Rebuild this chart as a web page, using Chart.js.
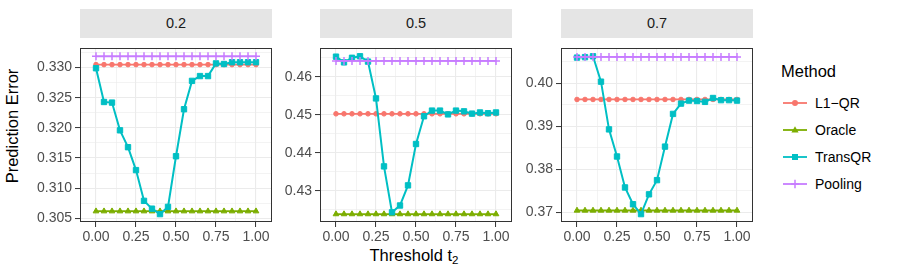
<!DOCTYPE html>
<html>
<head>
<meta charset="utf-8">
<script src="https://cdn.jsdelivr.net/npm/chart.js@4.4.1/dist/chart.umd.min.js"></script>
<style>
  body { margin: 0; background: #fff; font-family: "Liberation Sans", Arial, sans-serif; }
  #wrap { position: relative; width: 897px; height: 280px; overflow: hidden; }
  .panel { position: absolute; }
  .strip { position: absolute; top: 9px; height: 29px; line-height: 29px; background: #E5E5E5;
           color: #1A1A1A; font-size: 14.5px; text-align: center; }
  #ytitle { position: absolute; left: 12px; top: 126px; transform: translate(-50%, -50%) rotate(-90deg);
            font-size: 16.5px; color: #000; white-space: nowrap; }
  #xtitle { position: absolute; left: 414px; top: 255px; transform: translate(-50%, -50%);
            font-size: 16.5px; color: #000; white-space: nowrap; }
  #xtitle sub { font-size: 11.5px; vertical-align: -3px; line-height: 0; }
  #legend { position: absolute; left: 781px; top: 62px; }
  #legend .ttl { font-size: 16.5px; color: #000; height: 24px; }
  #legend .item { position: absolute; left: 2px; height: 14px; width: 110px; }
  #legend .item svg { position: absolute; left: 0; top: 1px; }
  #legend .item span { position: absolute; left: 32px; top: -1px; font-size: 14px; color: #000; white-space: nowrap; }
</style>
</head>
<body>
<div id="wrap">
  <div id="ytitle">Prediction Error</div>
  <div id="xtitle">Threshold t<sub>2</sub></div>
  <div id="legend"><div class="ttl">Method</div></div>
</div>
<script>
// thresholds t2 on the x axis
const thresholds = [0.00, 0.05, 0.10, 0.15, 0.20, 0.25, 0.30, 0.35, 0.40, 0.45, 0.50,
                    0.55, 0.60, 0.65, 0.70, 0.75, 0.80, 0.85, 0.90, 0.95, 1.00];
const facetLabels = ["0.2", "0.5", "0.7"];
const methods = ["L1\u2212QR", "Oracle", "TransQR", "Pooling"];
const colors = ["#F8766D", "#7CAE00", "#00BFC4", "#C77CFF"];

// methods that do not depend on t2: one value per facet
const l1qr    = [0.33050, 0.45025, 0.39626];
const oracle  = [0.30618, 0.42383, 0.37044];
const pooling = [0.33188, 0.46417, 0.40616];

// TransQR per facet
const transqr02 = [0.3299, 0.3243, 0.3242, 0.3196, 0.3168, 0.3130, 0.3079, 0.3066, 0.3057, 0.3069, 0.3153,
                   0.3231, 0.3278, 0.3286, 0.3286, 0.3307, 0.3306, 0.3309, 0.3309, 0.3309, 0.3309];
const transqr05 = [0.4653, 0.4638, 0.4650, 0.4654, 0.4640, 0.4543, 0.4364, 0.4243, 0.4261, 0.4314, 0.4423,
                   0.4496, 0.4511, 0.4511, 0.4501, 0.4511, 0.4509, 0.4503, 0.4506, 0.4504, 0.4506];
const transqr07 = [0.4060, 0.4061, 0.4063, 0.4004, 0.3893, 0.3830, 0.3758, 0.3719, 0.3696, 0.3742, 0.3775,
                   0.3853, 0.3929, 0.3953, 0.3960, 0.3959, 0.3957, 0.3966, 0.3961, 0.3961, 0.3960];
const transqr = [transqr02, transqr05, transqr07];

// tick labels
const xTicks = [0, 0.25, 0.5, 0.75, 1];
const yTicks = [
  [0.305, 0.310, 0.315, 0.320, 0.325, 0.330],
  [0.43, 0.44, 0.45, 0.46],
  [0.37, 0.38, 0.39, 0.40]
];
const yDigits = [3, 2, 2];

const FONT = "'Liberation Sans', Arial, sans-serif";
const plotLeft = [80, 320, 561];
const plotW = 192;
const yAxisW = [80, 48, 48];
const xMin = -0.1, xMax = 1.1;

// majors + minor lines halfway between (and one past each end if inside the range)
function withMinors(majors, lo, hi) {
  const out = [];
  const step = majors[1] - majors[0];
  const first = majors[0] - step / 2;
  if (first > lo) out.push({ value: first, isMaj: false });
  majors.forEach((v, i) => {
    out.push({ value: v, isMaj: true });
    if (i < majors.length - 1) out.push({ value: (v + majors[i + 1]) / 2, isMaj: false });
  });
  const last = majors[majors.length - 1] + step / 2;
  if (last < hi) out.push({ value: last, isMaj: false });
  return out;
}

const panelBorder = {
  id: 'panelBorder',
  afterDatasetsDraw(chart) {
    const a = chart.chartArea, c = chart.ctx;
    c.save();
    c.strokeStyle = '#333333';
    c.lineWidth = 1;
    c.strokeRect(Math.round(a.left) + 0.5, Math.round(a.top) + 0.5,
                 Math.round(a.right - a.left) - 1, Math.round(a.bottom - a.top) - 1);
    c.restore();
  }
};

function series(vals) {
  return thresholds.map((t, i) => ({ x: t, y: vals[i] }));
}
function flat(v) {
  return thresholds.map(t => ({ x: t, y: v }));
}

const wrap = document.getElementById('wrap');

facetLabels.forEach((lab, k) => {
  const strip = document.createElement('div');
  strip.className = 'strip';
  strip.style.left = plotLeft[k] + 'px';
  strip.style.width = plotW + 'px';
  strip.textContent = lab;
  wrap.appendChild(strip);

  const yw = yAxisW[k];
  const padR = 8;
  const box = document.createElement('div');
  box.className = 'panel';
  box.style.left = (plotLeft[k] - yw) + 'px';
  box.style.top = '37px';
  const cv = document.createElement('canvas');
  cv.width = yw + plotW + padR;
  cv.height = 215;
  cv.style.width = cv.width + 'px';
  cv.style.height = cv.height + 'px';
  box.appendChild(cv);
  wrap.appendChild(box);

  const allY = [l1qr[k], oracle[k], pooling[k]].concat(transqr[k]);
  const dmin = Math.min(...allY), dmax = Math.max(...allY);
  const ex = (dmax - dmin) * 0.05;
  const ylo = dmin - ex, yhi = dmax + ex;

  const mk = (i, data, style, radius, bw) => ({
    label: methods[i],
    data: data,
    borderColor: colors[i],
    backgroundColor: colors[i],
    borderWidth: i === 2 ? 2 : 1.8,
    pointStyle: style,
    pointRadius: radius,
    pointBorderWidth: bw,
    pointBorderColor: colors[i],
    pointBackgroundColor: colors[i],
    tension: 0,
    order: 4 - i
  });

  new Chart(cv, {
    type: 'line',
    data: {
      datasets: [
        mk(0, flat(l1qr[k]), 'circle', 2.3, 1),
        mk(1, flat(oracle[k]), 'triangle', 3.3, 1),
        mk(2, series(transqr[k]), 'rect', 3.8, 1),
        mk(3, flat(pooling[k]), 'cross', 4, 1.5)
      ]
    },
    options: {
      responsive: false,
      animation: false,
      devicePixelRatio: 1,
      layout: { padding: { top: 1, right: padR, left: 0, bottom: 0 } },
      plugins: { legend: { display: false }, tooltip: { enabled: false } },
      scales: {
        x: {
          type: 'linear',
          min: xMin, max: xMax,
          bounds: 'data',
          afterBuildTicks(s) { s.ticks = withMinors(xTicks, xMin, xMax); },
          afterFit(s) { s.height = 30; },
          ticks: {
            autoSkip: false, maxRotation: 0, padding: 2,
            color: '#4D4D4D', font: { family: FONT, size: 14 },
            callback(v, i, ts) { return ts[i].isMaj ? v.toFixed(2) : ''; }
          },
          grid: {
            color: '#EBEBEB',
            lineWidth: c => (c.tick && c.tick.isMaj) ? 1.1 : 0.6,
            tickLength: 5, tickWidth: 1,
            tickColor: c => (c.tick && c.tick.isMaj) ? '#333333' : 'rgba(0,0,0,0)'
          },
          border: { display: false }
        },
        y: {
          type: 'linear',
          min: ylo, max: yhi,
          bounds: 'data',
          afterBuildTicks(s) { s.ticks = withMinors(yTicks[k], ylo, yhi); },
          afterFit(s) { s.width = yw; },
          ticks: {
            autoSkip: false, padding: 3,
            color: '#4D4D4D', font: { family: FONT, size: 14 },
            callback(v, i, ts) { return ts[i].isMaj ? v.toFixed(yDigits[k]) : ''; }
          },
          grid: {
            color: '#EBEBEB',
            lineWidth: c => (c.tick && c.tick.isMaj) ? 1.1 : 0.6,
            tickLength: 5, tickWidth: 1,
            tickColor: c => (c.tick && c.tick.isMaj) ? '#333333' : 'rgba(0,0,0,0)'
          },
          border: { display: false }
        }
      }
    },
    plugins: [panelBorder]
  });
});

// legend keys
const legend = document.getElementById('legend');
const keyTop = [34, 61, 88, 115];
const markerSvg = [
  c => `<circle cx="12" cy="6" r="3" fill="${c}"/>`,
  c => `<polygon points="12,2.2 15.6,8.6 8.4,8.6" fill="${c}"/>`,
  c => `<rect x="9" y="3" width="6" height="6" fill="${c}"/>`,
  c => `<path d="M12 1.8 V10.2 M7.8 6 H16.2" stroke="${c}" stroke-width="1.5"/>`
];
methods.forEach((m, i) => {
  const it = document.createElement('div');
  it.className = 'item';
  it.style.top = keyTop[i] + 'px';
  it.innerHTML = `<svg width="24" height="12"><line x1="0" y1="6" x2="24" y2="6" stroke="${colors[i]}" stroke-width="1.8"/>` +
    markerSvg[i](colors[i]) + `</svg><span>${m}</span>`;
  legend.appendChild(it);
});
</script>
</body>
</html>
